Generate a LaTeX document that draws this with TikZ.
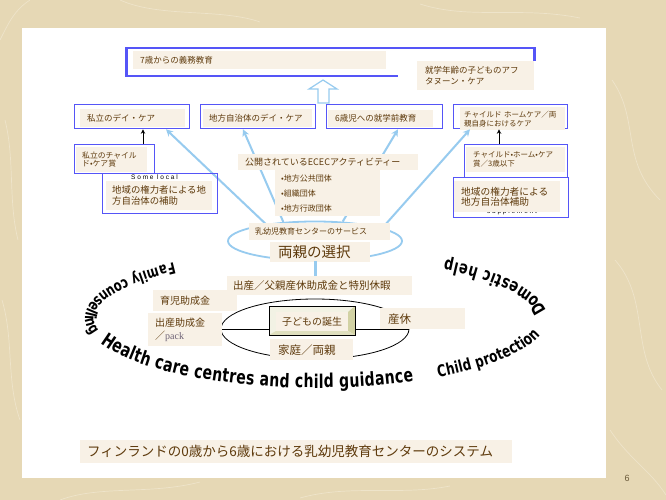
\documentclass[tikz,border=0pt]{standalone}
\usepackage{fontspec}
\newfontfamily\jp{Noto Sans CJK JP}
\newfontfamily\wafont{DejaVu Sans}
\newfontfamily\lsans{Liberation Sans}
\newfontfamily\lserif{Liberation Serif}
\usetikzlibrary{shapes.geometric,arrows.meta,calc,decorations.text}
\definecolor{bg}{HTML}{E6D8B5}
\definecolor{strand}{HTML}{F4ECD8}
\definecolor{labc}{HTML}{F8F1E6}
\definecolor{txtc}{HTML}{5E3A0C}
\definecolor{bblue}{HTML}{5555F7}
\definecolor{lblue}{HTML}{97CBEF}
\definecolor{bevd}{HTML}{D2D2A4}
\definecolor{bevl}{HTML}{F2F2E4}
\definecolor{pk}{HTML}{6E6275}
\definecolor{pgc}{HTML}{6B5A3A}
\newcommand\fs[2]{\fontsize{#1}{#2}\selectfont}
\begin{document}
\begin{tikzpicture}[x=1pt,y=-1pt,
  lab/.style={fill=labc, text=txtc, anchor=north west, inner ysep=0pt, align=left},
  bbox/.style={draw=bblue, line width=1.3pt, anchor=north west, inner sep=0pt},
  larrow/.style={draw=lblue, line width=2pt, -{Stealth[length=7pt,width=7pt]}},
  karrow/.style={draw=black, line width=0.9pt, -{Stealth[length=4.5pt,width=4.5pt]}},
  wa/.style 2 args={decorate, decoration={text effects along path, text={#2},
     text effects/.cd, text along path, fit text to path,
     characters={font=\wafont\bfseries\fs{#1}{#1}, text=black, yscale=1.35}}},
  tiny/.style={font=\lsans\fs{6.5}{7}, text=black, inner sep=0pt}
]
\useasboundingbox (0,0) rectangle (666,500);
\fill[bg] (0,0) rectangle (666,500);
% parchment strands
\begin{scope}[strand, line width=0.7pt, opacity=0.6]
\draw (0,40) .. controls (10,20) and (15,10) .. (30,0);
\draw (5,120) .. controls (15,160) and (8,200) .. (18,240);
\draw (2,300) .. controls (14,340) and (6,380) .. (20,420);
\draw (60,500) .. controls (100,485) and (150,495) .. (200,482);
\draw (300,498) .. controls (350,484) and (400,496) .. (450,486);
\draw (612,80) .. controls (640,120) and (620,160) .. (660,200);
\draw (615,260) .. controls (650,300) and (630,350) .. (662,390);
\draw (120,0) .. controls (160,18) and (220,8) .. (260,22);
\draw (420,4) .. controls (470,20) and (520,6) .. (580,18);
\draw (610,430) .. controls (630,460) and (650,470) .. (666,495);
\end{scope}
\fill[white] (22,28) rectangle (606,478);

% top box
\node[bbox, line width=2.5pt, minimum width=408pt, minimum height=28pt] (top) at (125,47) {};
\fill[white] (398,61) rectangle (537,93);
\node[lab, text width=239pt, inner xsep=7pt, minimum height=18pt, font=\jp\fs{8.5}{10}] (tlab) at (133,51) {7歳からの義務教育};
\node[lab, text width=101pt, inner xsep=8pt, minimum height=29pt, font=\jp\fs{8.5}{10.5}] (alab) at (417,61) {就学年齢の子どものアフ\\タヌーン・ケア};

% hollow arrow
\draw[lblue, line width=1.2pt, fill=white] (318,103) -- (318,89) -- (309,89) -- (323,80) -- (337,89) -- (329,89) -- (329,103) -- cycle;

% row of boxes
\node[bbox, minimum width=115pt, minimum height=24pt] (b1) at (74,104) {};
\node[lab, text width=91pt, inner xsep=7pt, minimum height=18pt, font=\jp\fs{8.5}{10}] (b1l) at (80,109) {私立のデイ・ケア};
\node[bbox, minimum width=115pt, minimum height=24pt] (b2) at (200,104) {};
\node[lab, text width=97pt, inner xsep=6pt, minimum height=18pt, font=\jp\fs{8.5}{10}] (b2l) at (203,109) {地方自治体のデイ・ケア};
\node[bbox, minimum width=116pt, minimum height=24pt] (b3) at (326,104) {};
\node[lab, text width=91pt, inner xsep=7pt, minimum height=17pt, font=\jp\fs{8.5}{10}] (b3l) at (328,110) {6歳児への就学前教育};
\node[bbox, minimum width=114pt, minimum height=24pt] (b4) at (453,104) {};
\node[lab, text width=97pt, inner xsep=4pt, minimum height=23pt, font=\jp\fs{7.5}{9}] (b4l) at (460,107) {チャイルド ホームケア／両\\親自身におけるケア};

% services ellipse
\node[ellipse, draw=lblue, line width=1.8pt, fill=white, minimum width=174pt, minimum height=39pt, inner sep=0pt] (svc) at (315,241) {};

% light blue arrows
\draw[larrow] (svc.161) -- ($(b1.south west)+(92,0)$);
\draw[larrow] (svc.149) -- ($(b2.south west)+(43,0)$);
\draw[larrow] (svc.35) -- ($(b3.south west)+(72,0)$);
\draw[larrow] (svc.11.5) -- ($(b4.south west)+(17,0)$);

% ECEC labels
\node[lab, text width=166pt, inner xsep=7pt, minimum height=16pt, font=\jp\fs{9}{10}] (ecec) at (238,154) {公開されているECECアクティビティー};
\node[lab, text width=93pt, inner xsep=6pt, minimum height=46pt, font=\jp\fs{8}{15}] (org) at (275,170) {•地方公共団体\\•組織団体\\•地方行政団体};

% labels in ellipse
\node[lab, text width=129pt, inner xsep=6pt, minimum height=17pt, font=\jp\fs{8}{9}] (svcl) at (249,223) {乳幼児教育センターのサービス};
\node[lab, text width=84pt, inner xsep=8pt, minimum height=20pt, font=\jp\fs{14.5}{16}] (choice) at (270,242) {両親の選択};

% leave label + stem
\node[lab, text width=173pt, inner xsep=6pt, minimum height=19pt, font=\jp\fs{10.5}{12}] (lv) at (227,276) {出産／父親産休助成金と特別休暇};
\draw[lblue, line width=3pt] (svc.south) -- (svc.south |- lv.north);

% left lower boxes
\node[bbox, minimum width=80pt, minimum height=29pt] (pc) at (74,144) {};
\node[lab, text width=59pt, inner xsep=6pt, minimum height=25pt, font=\jp\fs{7.8}{8.6}] (pcl) at (76,147) {私立のチャイル\\ド•ケア賞};
\draw[karrow] ($(pc.north west)+(69,0)$) -- ($(b1.south west)+(69,0)$);
\node[bbox, minimum width=115pt, minimum height=40pt] (loc) at (102,173) {};
\node[tiny, anchor=west] (some1) at (131,177) {S o m e \ l o c a l};
\node[lab, text width=94pt, inner xsep=6pt, minimum height=29pt, font=\jp\fs{9.4}{11}] (locl) at (106,181) {地域の権力者による地\\方自治体の補助};

% right lower boxes
\node[bbox, minimum width=103pt, minimum height=33pt] (hc) at (464,144) {};
\node[lab, text width=85pt, inner xsep=7pt, minimum height=25pt, font=\jp\fs{7.5}{9}] (hcl) at (466,147) {チャイルド•ホーム•ケア\\賞／3歳以下};
\draw[karrow] ($(hc.north west)+(35,0)$) -- ($(b4.south west)+(46,0)$);
\node[bbox, minimum width=115pt, minimum height=40pt] (rl) at (453,177) {};
\node[tiny] (supp) at (512,212) {s u p p l e m e n t};
\node[lab, text width=92pt, inner xsep=7pt, minimum height=31pt, font=\jp\fs{9.7}{10.5}] (rll) at (454,181) {地域の権力者による\\地方自治体補助};

% family ellipse
\node[ellipse, draw=black, line width=0.8pt, minimum width=188pt, minimum height=60pt, inner sep=0pt] (fam) at (315,329) {};
\draw[line width=0.8pt] (fam.west) -- (fam.east);

% birth button
\node[draw=black, line width=0.9pt, fill=bevl, anchor=north west, minimum width=86pt, minimum height=29pt, inner sep=0pt] (birth) at (269,306) {};
\fill[bevd] (348,312) -- (355,306) -- (355,335) -- (348,331) -- cycle;
\fill[bevd!60!bevl] (276,331) -- (348,331) -- (355,335) -- (269,335) -- cycle;
\draw[line width=0.9pt] (269,306) rectangle (355,335);
\node[lab, text width=60pt, inner xsep=6pt, minimum height=19pt, font=\jp\fs{10}{11}] (birthl) at (276,312) {子どもの誕生};

% lower labels
\node[lab, text width=70pt, inner xsep=7pt, minimum height=21pt, font=\jp\fs{10}{11}] (ikuji) at (153,290) {育児助成金};
\node[lab, text width=60pt, inner xsep=7pt, minimum height=33pt, font=\jp\fs{10}{13.5}] (shussan) at (148,313) {出産助成金\\／{\lserif\color{pk}pack}};
\node[lab, text width=69pt, inner xsep=8pt, minimum height=21pt, font=\jp\fs{11.5}{13}] (sankyu) at (380,308) {産休};
\node[lab, text width=67pt, inner xsep=8pt, minimum height=21pt, font=\jp\fs{11.5}{13}] (katei) at (270,339) {家庭／両親};

% curved word art
\path[wa={11.5}{Family counselling}] (316,318) ++(232:231 and 70) arc[start angle=232, end angle=166, x radius=231, y radius=70];
\path[wa={14}{Health care centres and child guidance}] (316,318) ++(159:231 and 70) arc[start angle=159, end angle=65, x radius=231, y radius=70];
\path[wa={12}{Child protection}] (316,318) ++(58:231 and 70) arc[start angle=58, end angle=14, x radius=231, y radius=70];
\path[wa={13}{Domestic help}] (316,318) ++(-6:231 and 70) arc[start angle=-6, end angle=-56, x radius=231, y radius=70];

% title and page number
\node[lab, text width=418pt, inner xsep=7pt, minimum height=23pt, font=\jp\fs{13.5}{15}] (title) at (80,440) {フィンランドの0歳から6歳における乳幼児教育センターのシステム};
\node[font=\lsans\fs{9}{10}, text=pgc] (pg) at (627,478) {6};
\end{tikzpicture}
\end{document}
